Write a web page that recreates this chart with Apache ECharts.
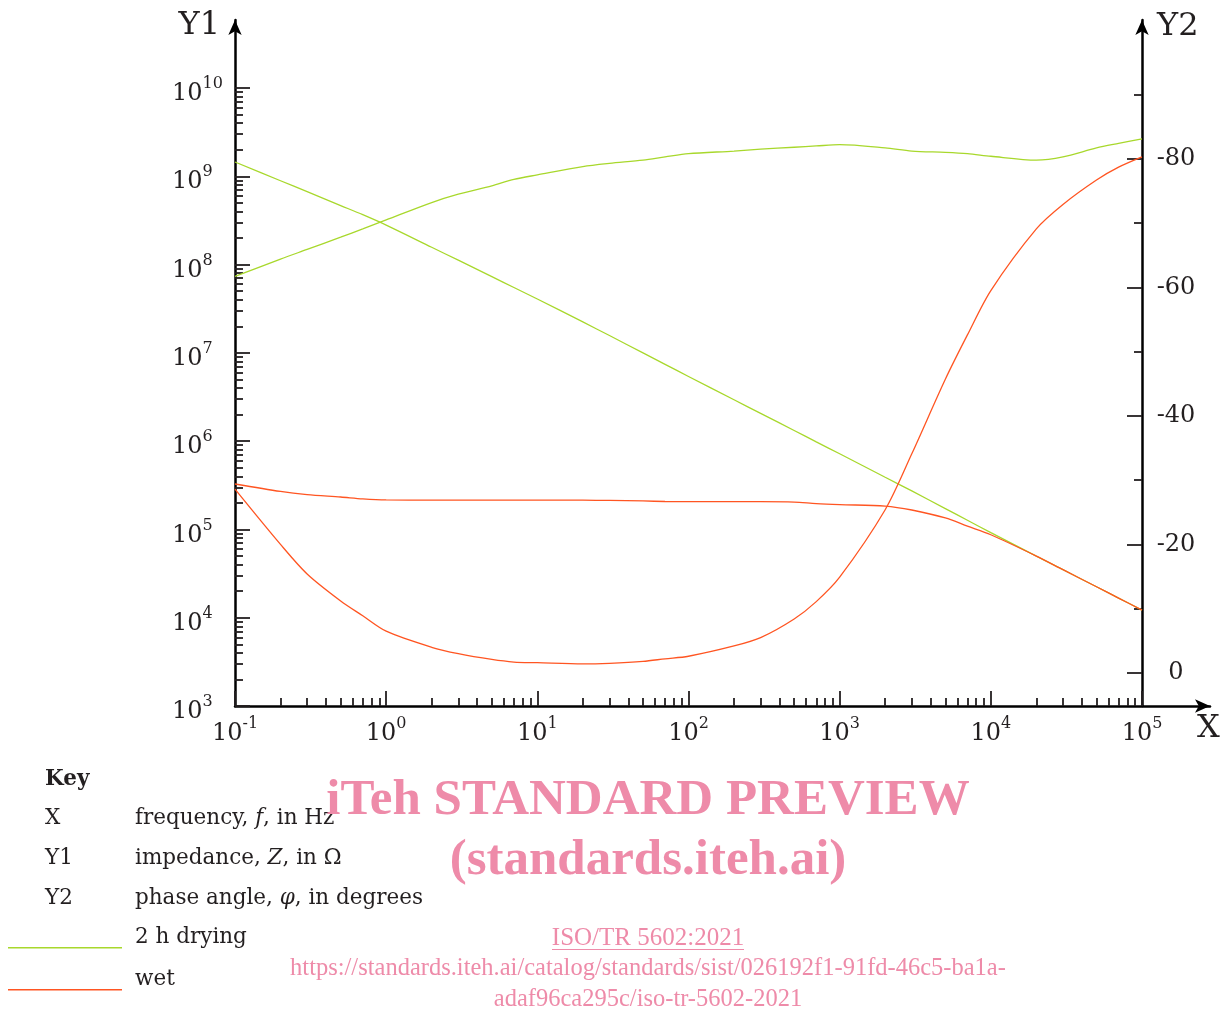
<!DOCTYPE html>
<html><head><meta charset="utf-8">
<script src="https://cdn.jsdelivr.net/npm/echarts@6/dist/echarts.min.js"></script>
<style>html,body{margin:0;padding:0;background:#fff}#c{width:1225px;height:1014px}</style>
</head><body><div id="c"></div>
<script>
// ---------------- data ----------------
const freqs = [0.1,0.2,0.3,0.5,0.7,1,2,3,5,7,10,20,30,50,70,100,200,300,500,700,1000,2000,3000,5000,7000,10000,20000,30000,50000,70000,100000];
const dryImpedance = [1.45e9,8.9e8,6.7e8,4.66e8,3.67e8,2.8e8,1.57e8,1.12e8,7.3e7,5.5e7,4.07e7,2.24e7,1.57e7,9.98e6,7.4e6,5.4e6,2.94e6,2.06e6,1.32e6,9.8e5,7.2e5,3.9e5,2.73e5,1.72e5,1.27e5,9.2e4,4.99e4,3.5e4,2.24e4,1.67e4,1.22e4];
const wetImpedance = [3.27e5,2.69e5,2.48e5,2.33e5,2.22e5,2.16e5,2.15e5,2.15e5,2.15e5,2.15e5,2.15e5,2.15e5,2.13e5,2.10e5,2.07e5,2.06e5,2.06e5,2.06e5,2.04e5,1.96e5,1.91e5,1.84e5,1.66e5,1.35e5,1.09e5,8.7e4,4.99e4,3.5e4,2.24e4,1.67e4,1.22e4];
const dryPhase = [-61.7,-64.4,-65.9,-67.8,-69.1,-70.5,-73.2,-74.5,-75.8,-76.8,-77.5,-78.8,-79.3,-79.8,-80.3,-80.8,-81.2,-81.5,-81.8,-82.0,-82.2,-81.7,-81.2,-81.0,-80.8,-80.4,-79.8,-80.3,-81.7,-82.4,-83.1];
const wetPhase = [-28.6,-20.0,-15.4,-11.2,-8.9,-6.5,-4.0,-3.0,-2.1,-1.7,-1.6,-1.4,-1.5,-1.8,-2.2,-2.6,-4.2,-5.5,-8.4,-11.1,-14.9,-25.4,-34.1,-45.7,-52.6,-59.5,-69.1,-72.9,-76.7,-78.7,-80.3];
const seriesNames = ['2 h drying', 'wet'];
const xMajorTicks = [0.1,1,10,100,1000,10000,100000];
const y1MajorTicks = [1e3,1e4,1e5,1e6,1e7,1e8,1e9,1e10];
const y2MajorTicks = [0,-20,-40,-60,-80];
const y2MinorTicks = [-10,-30,-50,-70,-90];
const minorMultipliers = [2,3,4,5,6,7,8,9];

// ---------------- helpers ----------------
function minorLog(fromExp, toExp){
  const out = [];
  for (let e = fromExp; e < toExp; e++) minorMultipliers.forEach(m => out.push(+(m * Math.pow(10, e)).toPrecision(6)));
  return out;
}
const xMinorTicks = minorLog(-1, 5);
const y1MinorTicks = minorLog(3, 10);

const FONT = 'DejaVu Serif';
const TXT = '#231F20';
const GREEN = '#A8D82C';
const RED = '#FF5522';
const PINK = '#EE8BA9';

// axis ranges (axis lines extend past the last tick to the arrow heads)
const xMax = Math.pow(10, 5.4498);
const y1Max = Math.pow(10, 10.7699);
const y2Top = -101.6, y2Bottom = 5.14;

const supRich = {
  b: {fontFamily: FONT, fontSize: 24, lineHeight: 24, color: TXT, padding: [6,0,0,0], verticalAlign: 'top'},
  s: {fontFamily: FONT, fontSize: 16, lineHeight: 16, color: TXT, verticalAlign: 'top'}
};
const powFmt = v => '{b|10}{s|' + Math.round(Math.log10(v)) + '}';
const lineBlack = {color: '#000', width: 2.5};
const tickStyle = {color: TXT, width: 1.8};

const pairs = arr => freqs.map((f, i) => [f, arr[i]]);

const chart = echarts.init(document.getElementById('c'), null, {renderer: 'canvas'});
chart.setOption({
  animation: false,
  backgroundColor: '#fff',
  grid: {left: 235, top: 20, right: 15, bottom: 308, containLabel: false},
  legend: {
    left: 8, top: 926, orient: 'vertical', padding: 0, itemGap: 4.5,
    itemWidth: 114, itemHeight: 1.5, icon: 'rect',
    data: seriesNames, selectedMode: false,
    formatter: name => '{t|' + name + '}\n{e| }',
    textStyle: {fontFamily: FONT, fontSize: 21.5, color: TXT, padding: [0,0,0,8],
      rich: {t: {fontFamily: FONT, fontSize: 21.5, lineHeight: 21.5, color: TXT},
             e: {fontSize: 10, lineHeight: 21.5}}}
  },
  xAxis: [
    {type: 'log', logBase: 10, min: 0.1, max: xMax, position: 'bottom',
     axisLine: {show: true, onZero: false, lineStyle: lineBlack, symbol: ['none','arrow'], symbolSize: [10,15]},
     axisTick: {show: true, inside: true, length: 15, lineStyle: tickStyle, customValues: xMajorTicks},
     axisLabel: {show: true, customValues: xMajorTicks, margin: 10, formatter: powFmt, rich: supRich},
     splitLine: {show: false}, minorTick: {show: false}, minorSplitLine: {show: false}},
    {type: 'log', logBase: 10, min: 0.1, max: xMax, position: 'bottom',
     axisLine: {show: false, onZero: false},
     axisTick: {show: true, inside: true, length: 8, lineStyle: tickStyle, customValues: xMinorTicks},
     axisLabel: {show: false}, splitLine: {show: false}}
  ],
  yAxis: [
    {type: 'log', logBase: 10, min: 1000, max: y1Max, position: 'left',
     axisLine: {show: true, onZero: false, lineStyle: lineBlack, symbol: ['none','arrow'], symbolSize: [10,15]},
     axisTick: {show: true, inside: true, length: 15, lineStyle: tickStyle, customValues: y1MajorTicks},
     axisLabel: {show: true, customValues: y1MajorTicks, margin: 63, align: 'left', formatter: powFmt, rich: supRich},
     splitLine: {show: false}},
    {type: 'log', logBase: 10, min: 1000, max: y1Max, position: 'left',
     axisLine: {show: false, onZero: false},
     axisTick: {show: true, inside: true, length: 8, lineStyle: tickStyle, customValues: y1MinorTicks},
     axisLabel: {show: false}, splitLine: {show: false}},
    {type: 'value', min: y2Top, max: y2Bottom, inverse: true, position: 'right', offset: -68,
     axisLine: {show: true, onZero: false, lineStyle: lineBlack, symbol: ['none','arrow'], symbolSize: [10,15]},
     axisTick: {show: true, inside: true, length: 15, lineStyle: tickStyle, customValues: y2MajorTicks},
     axisLabel: {show: true, customValues: y2MajorTicks, margin: 34, align: 'center',
                 fontFamily: FONT, fontSize: 24, color: TXT, formatter: v => String(v)},
     splitLine: {show: false}},
    {type: 'value', min: y2Top, max: y2Bottom, inverse: true, position: 'right', offset: -68,
     axisLine: {show: false, onZero: false},
     axisTick: {show: true, inside: true, length: 8, lineStyle: tickStyle, customValues: y2MinorTicks},
     axisLabel: {show: false}, splitLine: {show: false}}
  ],
  series: [
    {name: seriesNames[0], type: 'line', xAxisIndex: 0, yAxisIndex: 0, data: pairs(dryImpedance),
     showSymbol: false, symbol: 'none', smooth: 0.3, lineStyle: {color: GREEN, width: 1.3}, itemStyle: {color: GREEN}},
    {name: seriesNames[0], type: 'line', xAxisIndex: 0, yAxisIndex: 2, data: pairs(dryPhase),
     showSymbol: false, symbol: 'none', smooth: 0.3, lineStyle: {color: GREEN, width: 1.3}, itemStyle: {color: GREEN}},
    {name: seriesNames[1], type: 'line', xAxisIndex: 0, yAxisIndex: 0, data: pairs(wetImpedance),
     showSymbol: false, symbol: 'none', smooth: 0.3, lineStyle: {color: RED, width: 1.3}, itemStyle: {color: RED}},
    {name: seriesNames[1], type: 'line', xAxisIndex: 0, yAxisIndex: 2, data: pairs(wetPhase),
     showSymbol: false, symbol: 'none', smooth: 0.3, lineStyle: {color: RED, width: 1.3}, itemStyle: {color: RED}}
  ],
  graphic: [
    {type: 'text', x: 220, y: 26, style: {text: 'Y1', font: '32px "DejaVu Serif"', fill: TXT, align: 'right', verticalAlign: 'middle'}},
    {type: 'text', x: 1157, y: 27, style: {text: 'Y2', font: '32px "DejaVu Serif"', fill: TXT, align: 'left', verticalAlign: 'middle'}},
    {type: 'text', x: 1197, y: 729, style: {text: 'X', font: '32px "DejaVu Serif"', fill: TXT, align: 'left', verticalAlign: 'middle'}},
    {type: 'text', x: 45, y: 779, style: {text: 'Key', font: 'bold 21.5px "DejaVu Serif"', fill: TXT, verticalAlign: 'middle'}},
    {type: 'text', x: 45, y: 818, style: {text: 'X', font: '21.5px "DejaVu Serif"', fill: TXT, verticalAlign: 'middle'}},
    {type: 'text', x: 45, y: 858, style: {text: 'Y1', font: '21.5px "DejaVu Serif"', fill: TXT, verticalAlign: 'middle'}},
    {type: 'text', x: 45, y: 898, style: {text: 'Y2', font: '21.5px "DejaVu Serif"', fill: TXT, verticalAlign: 'middle'}},
    {type: 'text', x: 135, y: 818, style: {text: 'frequency, {i|f}, in Hz', font: '21.5px "DejaVu Serif"', fill: TXT, verticalAlign: 'middle',
      rich: {i: {fontStyle: 'italic', fontFamily: FONT, fontSize: 21.5, fill: TXT}}}},
    {type: 'text', x: 135, y: 858, style: {text: 'impedance, {i|Z}, in Ω', font: '21.5px "DejaVu Serif"', fill: TXT, verticalAlign: 'middle',
      rich: {i: {fontStyle: 'italic', fontFamily: FONT, fontSize: 21.5, fill: TXT}}}},
    {type: 'text', x: 135, y: 898, style: {text: 'phase angle, {i|φ}, in degrees', font: '21.5px "DejaVu Serif"', fill: TXT, verticalAlign: 'middle',
      rich: {i: {fontStyle: 'italic', fontFamily: FONT, fontSize: 21.5, fill: TXT}}}},
    {type: 'text', x: 648, y: 801, z: 10, style: {text: 'iTeh STANDARD PREVIEW', font: 'bold 51px "Liberation Serif"', fill: PINK, align: 'center', verticalAlign: 'middle'}},
    {type: 'text', x: 648, y: 861, z: 10, style: {text: '(standards.iteh.ai)', font: 'bold 51px "Liberation Serif"', fill: PINK, align: 'center', verticalAlign: 'middle'}},
    {type: 'text', x: 648, y: 938, z: 10, style: {text: 'ISO/TR 5602:2021', font: '25px "Liberation Serif"', fill: PINK, align: 'center', verticalAlign: 'middle'}},
    {type: 'line', z: 10, shape: {x1: 552, y1: 949.5, x2: 744, y2: 949.5}, style: {stroke: PINK, lineWidth: 1.2}},
    {type: 'text', x: 648, y: 969, z: 10, style: {text: 'https://standards.iteh.ai/catalog/standards/sist/026192f1-91fd-46c5-ba1a-', font: '24.5px "Liberation Serif"', fill: PINK, align: 'center', verticalAlign: 'middle'}},
    {type: 'text', x: 648, y: 1000, z: 10, style: {text: 'adaf96ca295c/iso-tr-5602-2021', font: '24.5px "Liberation Serif"', fill: PINK, align: 'center', verticalAlign: 'middle'}}
  ]
});
</script></body></html>
